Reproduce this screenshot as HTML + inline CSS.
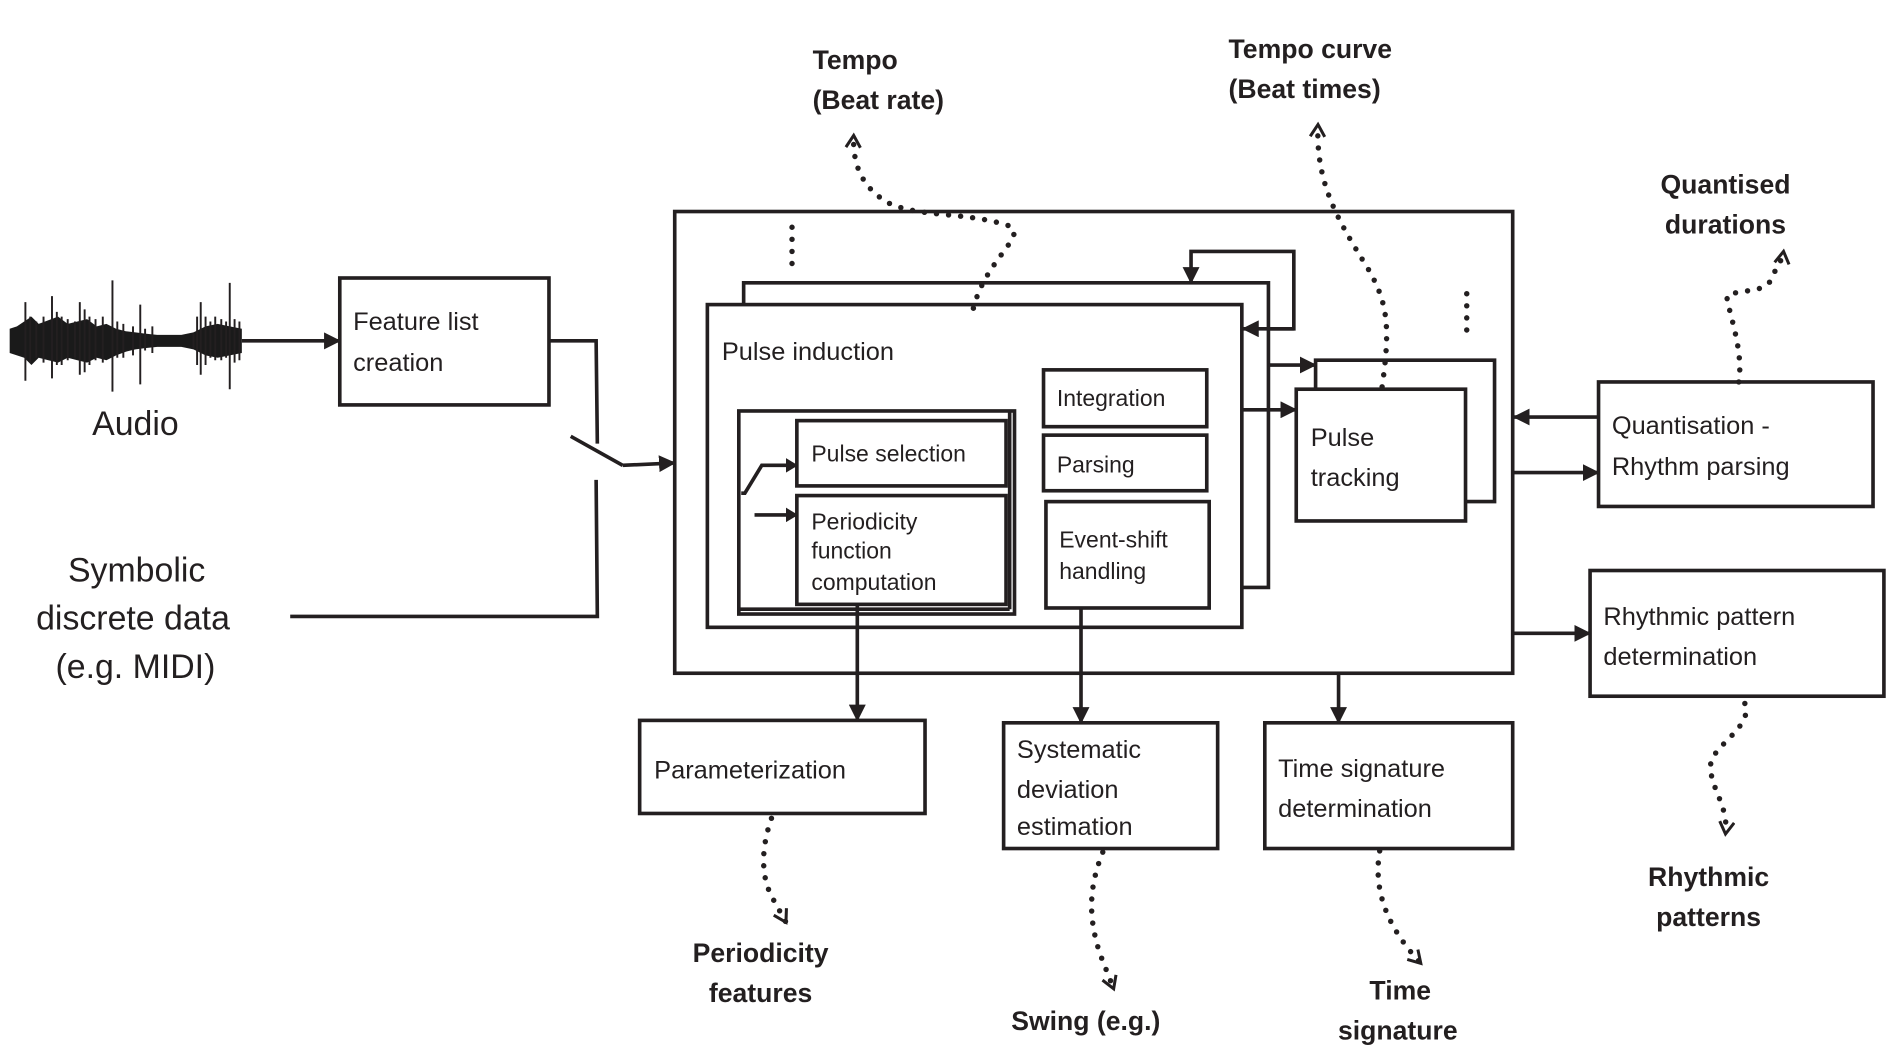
<!DOCTYPE html>
<html><head><meta charset="utf-8"><style>
html,body{margin:0;padding:0;background:#fff;}
svg{display:block;}
text{font-family:"Liberation Sans",sans-serif;fill:#231f20;}
.t{font-size:21px;}
.s{font-size:19px;}
.b{font-size:22px;font-weight:bold;}
.big{font-size:28px;}
</style></head><body>
<svg width="1896" height="1054" viewBox="0 0 1568 872" preserveAspectRatio="none" xmlns="http://www.w3.org/2000/svg">
<defs>
<marker id="a" markerWidth="10" markerHeight="12" refX="9" refY="6" orient="auto" markerUnits="userSpaceOnUse"><path d="M0,0 L10,6 L0,12 z" fill="#231f20"/></marker>
<marker id="ah" markerWidth="14" markerHeight="14" refX="13" refY="7" orient="auto" markerUnits="userSpaceOnUse"><path d="M0,0 L14,7 L0,14 z" fill="#231f20"/></marker>
<marker id="o" markerWidth="16" markerHeight="16" refX="12" refY="7" orient="auto" markerUnits="userSpaceOnUse"><path d="M2,1 L12,7 L2,13" fill="none" stroke="#231f20" stroke-width="2.5"/></marker>
</defs>
<g stroke="#231f20" fill="none" stroke-width="3">
<!-- waveform -->
<path fill="#1a1a1a" stroke="none" d="M8,272 L14,270 L20,266 L26,262 L32,268 L40,265 L48,262 L56,268 L64,266 L72,264 L80,270 L88,268 L96,272 L104,274 L112,275 L120,276 L130,277 L140,277 L150,277 L160,275 L170,270 L180,268 L190,270 L200,272 L200,292 L190,294 L180,296 L170,294 L160,289 L150,287 L140,287 L130,287 L120,288 L112,289 L104,291 L96,294 L88,298 L80,296 L72,300 L64,298 L56,296 L48,300 L40,298 L32,296 L26,302 L20,296 L14,294 L8,292 Z"/>
<g stroke-width="1.6">
<path d="M21,250 v65 M25,262 v38 M30,266 v30 M36,262 v38 M43,245 v68 M47,258 v44 M51,262 v40 M56,264 v34 M62,266 v30 M66,250 v60 M70,256 v52 M74,262 v40 M79,264 v34 M85,262 v38 M93,232 v92 M97,266 v30 M102,268 v28 M110,270 v24 M116,252 v66 M120,272 v18 M126,270 v22 M160,276 v12 M163,262 v40 M166,250 v60 M170,262 v40 M174,266 v30 M178,262 v36 M183,264 v34 M187,266 v30 M190,234 v88 M194,264 v36 M198,266 v32"/>
</g>
<line x1="200" y1="282" x2="281" y2="282" marker-end="url(#ah)"/>
<rect x="281" y="230" width="173" height="105"/>
<polyline points="454,282 493,282 494,367"/>
<line x1="472" y1="361" x2="515" y2="385"/>
<line x1="515" y1="385" x2="558" y2="383" marker-end="url(#ah)"/>
<polyline points="493,397 494,510 240,510"/>
<!-- main box -->
<rect x="558" y="175" width="693" height="382"/>
<polyline points="615,252 615,234 1049,234 1049,486 1028,486"/>
<rect x="585" y="252" width="442" height="267"/>
<rect x="611" y="340" width="228" height="168"/>
<line x1="835" y1="340" x2="835" y2="504"/>
<line x1="611" y1="504" x2="835" y2="504"/>
<rect x="659" y="348" width="173" height="54"/>
<rect x="659" y="410" width="173" height="90"/>
<polyline points="613,408 616,408 630,385 659,385" marker-end="url(#a)"/>
<line x1="624" y1="426" x2="659" y2="426" marker-end="url(#a)"/>
<rect x="863" y="306" width="135" height="47"/>
<rect x="863" y="360" width="135" height="46"/>
<rect x="865" y="415" width="135" height="88"/>
<!-- feedback -->
<polyline points="1049,272 1070,272 1070,208 985,208 985,234" marker-end="url(#ah)"/>
<line x1="1070" y1="272" x2="1028" y2="272" marker-end="url(#ah)"/>
<line x1="1049" y1="302" x2="1088" y2="302" marker-end="url(#ah)"/>
<line x1="1027" y1="339" x2="1072" y2="339" marker-end="url(#ah)"/>
<polyline points="1088,322 1088,298 1236,298 1236,415 1212,415"/>
<rect x="1072" y="322" width="140" height="109"/>
<rect x="1322" y="316" width="227" height="103"/>
<line x1="1322" y1="345" x2="1252" y2="345" marker-end="url(#ah)"/>
<line x1="1252" y1="391" x2="1322" y2="391" marker-end="url(#ah)"/>
<rect x="1315" y="472" width="243" height="104"/>
<line x1="1252" y1="524" x2="1315" y2="524" marker-end="url(#ah)"/>
<line x1="709" y1="500" x2="709" y2="596" marker-end="url(#ah)"/>
<line x1="894" y1="503" x2="894" y2="598" marker-end="url(#ah)"/>
<line x1="1107" y1="557" x2="1107" y2="598" marker-end="url(#ah)"/>
<rect x="529" y="596" width="236" height="77"/>
<rect x="830" y="598" width="177" height="104"/>
<rect x="1046" y="598" width="205" height="104"/>
</g>
<!-- dotted -->
<g stroke="#231f20" fill="none" stroke-width="4.5" stroke-linecap="round" stroke-dasharray="0 10">
<line x1="655" y1="188" x2="655" y2="228"/>
<line x1="1213" y1="243" x2="1213" y2="280"/>
<path d="M805,255 C815,215 850,195 835,187 C800,175 760,180 735,168 C712,155 705,135 706,112" marker-end="url(#o)"/>
<path d="M1143,320 C1150,270 1148,250 1130,220 C1105,180 1088,150 1090,103" marker-end="url(#o)"/>
<path d="M1438,316 C1442,290 1430,260 1428,245 C1440,238 1462,244 1466,228 C1470,220 1474,215 1475,208" marker-end="url(#o)"/>
<path d="M638,677 C630,700 628,725 640,745 L650,763" marker-end="url(#o)"/>
<path d="M912,705 C900,735 900,760 910,790 L921,818" marker-end="url(#o)"/>
<path d="M1141,704 C1135,740 1150,770 1175,797" marker-end="url(#o)"/>
<path d="M1443,582 C1450,600 1420,615 1415,630 C1412,650 1430,665 1427,690" marker-end="url(#o)"/>
</g>
<!-- text -->
<text class="big" x="112" y="360" text-anchor="middle">Audio</text>
<text class="big" x="113" y="481" text-anchor="middle">Symbolic</text>
<text class="big" x="110" y="521" text-anchor="middle">discrete data</text>
<text class="big" x="112" y="561" text-anchor="middle">(e.g. MIDI)</text>
<text class="t" x="292" y="273">Feature list</text>
<text class="t" x="292" y="307">creation</text>
<text class="t" x="597" y="298">Pulse induction</text>
<text class="s" x="671" y="382">Pulse selection</text>
<text class="s" x="671" y="438">Periodicity</text>
<text class="s" x="671" y="462">function</text>
<text class="s" x="671" y="488">computation</text>
<text class="s" x="874" y="336">Integration</text>
<text class="s" x="874" y="391">Parsing</text>
<text class="s" x="876" y="453">Event-shift</text>
<text class="s" x="876" y="479">handling</text>
<text class="t" x="1084" y="369">Pulse</text>
<text class="t" x="1084" y="402">tracking</text>
<text class="t" x="1333" y="359">Quantisation -</text>
<text class="t" x="1333" y="393">Rhythm parsing</text>
<text class="t" x="1326" y="517">Rhythmic pattern</text>
<text class="t" x="1326" y="550">determination</text>
<text class="t" x="541" y="644">Parameterization</text>
<text class="t" x="841" y="627">Systematic</text>
<text class="t" x="841" y="660">deviation</text>
<text class="t" x="841" y="691">estimation</text>
<text class="t" x="1057" y="643">Time signature</text>
<text class="t" x="1057" y="676">determination</text>
<text class="b" x="672" y="57">Tempo</text>
<text class="b" x="672" y="90">(Beat rate)</text>
<text class="b" x="1016" y="48">Tempo curve</text>
<text class="b" x="1016" y="81">(Beat times)</text>
<text class="b" x="1427" y="160" text-anchor="middle">Quantised</text>
<text class="b" x="1427" y="193" text-anchor="middle">durations</text>
<text class="b" x="629" y="796" text-anchor="middle">Periodicity</text>
<text class="b" x="629" y="829" text-anchor="middle">features</text>
<text class="b" x="898" y="852" text-anchor="middle">Swing (e.g.)</text>
<text class="b" x="1158" y="827" text-anchor="middle">Time</text>
<text class="b" x="1156" y="860" text-anchor="middle">signature</text>
<text class="b" x="1413" y="733" text-anchor="middle">Rhythmic</text>
<text class="b" x="1413" y="766" text-anchor="middle">patterns</text>
</svg>
</body></html>
